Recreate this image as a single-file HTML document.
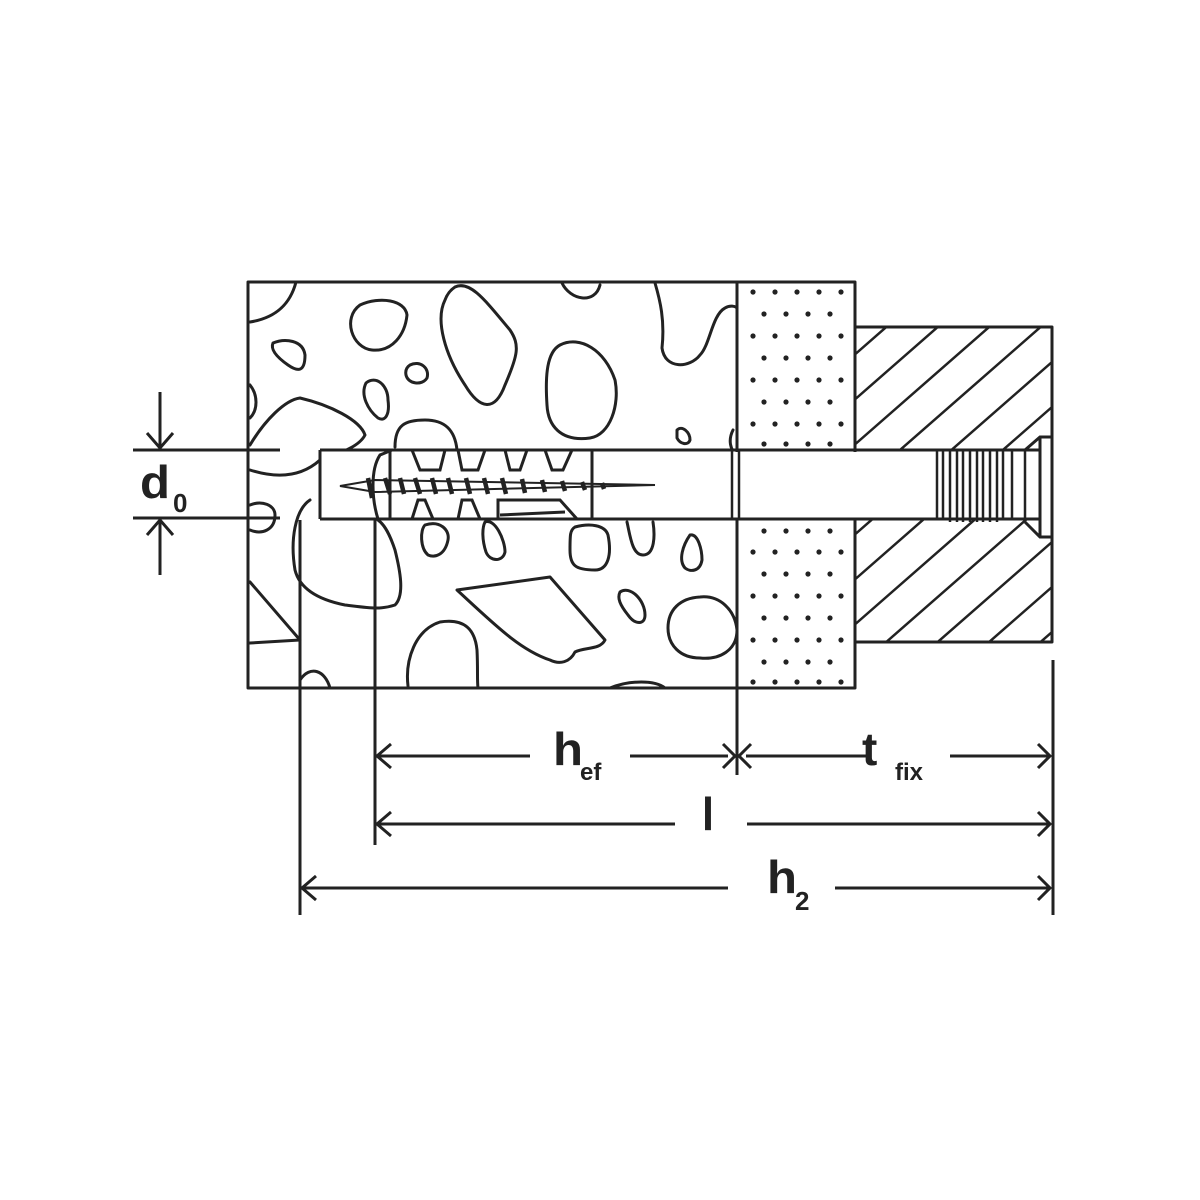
<!DOCTYPE html>
<html><head><meta charset="utf-8"><style>html,body{margin:0;padding:0;background:#fff}svg{display:block}</style></head>
<body>
<svg width="1200" height="1200" viewBox="0 0 1200 1200" xmlns="http://www.w3.org/2000/svg">
<defs>
<clipPath id="hc"><path d="M855 327 H1052 V642 H855 Z M855 450 V519 H1052 V450 Z" clip-rule="evenodd"/></clipPath>
<clipPath id="cc"><path d="M248 282 H737 V688 H248 Z M320 450 V519 H737 V450 Z" clip-rule="evenodd"/></clipPath>
</defs>
<g fill="none" stroke="#222" stroke-width="3" stroke-linejoin="round" stroke-linecap="round">
<g clip-path="url(#cc)">
<path d="M250 322 C275 318 290 305 296 282"/>
<path d="M250 385 C258 395 258 410 250 418"/>
<path d="M360 305 C380 296 405 300 407 315 C405 335 392 352 372 350 C352 348 342 318 360 305Z"/>
<path d="M273 343 C285 338 303 340 305 355 C305 372 298 372 288 365 C278 358 270 350 273 343Z"/>
<path d="M410 365 C420 360 430 368 427 378 C422 386 408 384 406 375 C405 370 407 367 410 365Z"/>
<path d="M366 383 C376 375 388 385 388 400 C390 415 385 422 378 418 C368 410 360 395 366 383Z"/>
<path d="M455 287 C470 280 485 300 510 330 C520 345 518 355 505 385 C495 412 480 410 465 385 C445 355 435 320 445 300 C448 292 452 289 455 287Z"/>
<path d="M560 345 C580 335 605 350 615 380 C620 405 610 435 590 438 C560 442 548 425 547 405 C545 375 547 352 560 345Z"/>
<path d="M677 430 C682 425 690 432 690 440 C688 446 680 444 677 438Z"/>
<path d="M655 283 C660 300 665 320 662 348 C665 370 690 368 700 355 C710 345 712 315 725 308 C730 305 735 306 737 308"/>
<path d="M562 283 C570 300 595 305 600 285"/>
<path d="M250 445 C265 420 285 400 300 398 C330 405 360 420 365 435 C360 445 345 452 320 460 C300 478 275 478 250 470"/>
<path d="M395 447 C395 425 405 420 425 420 C445 420 455 430 457 450"/>
<path d="M250 505 C262 500 275 505 275 515 C275 530 262 535 250 530"/>
<path d="M310 500 C295 510 290 540 295 570 C300 590 320 600 345 605 C370 608 380 610 395 605 C405 595 400 570 395 550 C390 535 385 525 378 520"/>
<path d="M250 582 L300 640 L250 643"/>
<path d="M300 680 C310 665 325 670 330 688"/>
<path d="M425 525 C440 520 450 530 448 540 C445 555 435 558 428 555 C420 548 420 530 425 525Z"/>
<path d="M485 522 C495 518 505 540 505 552 C503 562 490 562 486 552 C482 540 482 528 485 522Z"/>
<path d="M575 527 C590 523 605 525 608 535 C612 555 608 570 595 570 C575 570 570 565 570 550 C570 535 570 530 575 527Z"/>
<path d="M627 522 C630 535 632 555 643 555 C655 555 655 535 653 522"/>
<path d="M690 535 C698 533 702 550 702 560 C700 572 690 572 685 568 C678 560 683 545 690 535Z"/>
<path d="M457 590 L550 577 L605 640 C600 650 585 647 575 652 C570 662 560 665 550 660 C520 650 495 625 457 590Z"/>
<path d="M620 592 C630 585 645 600 645 615 C645 625 635 625 628 615 C620 605 617 598 620 592Z"/>
<path d="M700 597 C720 595 735 610 737 630 C737 650 720 660 700 658 C680 658 668 645 668 628 C668 610 680 598 700 597Z"/>
<path d="M408 686 C405 660 415 630 440 622 C465 618 475 630 477 650 C478 670 477 680 478 688"/>
<path d="M610 688 C630 680 655 680 665 688"/>
<path d="M733 430 C728 440 730 450 737 455"/>
</g>
<rect x="248" y="282" width="489" height="406"/>
<rect x="737" y="282" width="118" height="406"/>
<rect x="855" y="327" width="197" height="315"/>
<g clip-path="url(#hc)" stroke-width="2.5">
<line x1="780" y1="420" x2="1100" y2="140"/>
<line x1="780" y1="465" x2="1100" y2="185"/>
<line x1="780" y1="510" x2="1100" y2="230"/>
<line x1="780" y1="555" x2="1100" y2="275"/>
<line x1="780" y1="600" x2="1100" y2="320"/>
<line x1="780" y1="645" x2="1100" y2="365"/>
<line x1="780" y1="690" x2="1100" y2="410"/>
<line x1="780" y1="735" x2="1100" y2="455"/>
<line x1="780" y1="780" x2="1100" y2="500"/>
<line x1="780" y1="825" x2="1100" y2="545"/>
<line x1="780" y1="870" x2="1100" y2="590"/>
<line x1="780" y1="915" x2="1100" y2="635"/>
<line x1="780" y1="960" x2="1100" y2="680"/>
<line x1="780" y1="1005" x2="1100" y2="725"/>
<line x1="780" y1="1050" x2="1100" y2="770"/>
</g>
</g>
<g fill="none" stroke="#222" stroke-width="3">
<rect x="322" y="452" width="730" height="66" fill="#fff" stroke="none"/>
<path d="M320 450 H1040 M320 519 H1040 M320 450 V519"/>
<rect x="390" y="450" width="202" height="69"/>
<path d="M378 519 C372 500 370 470 380 455 L392 450" />
<path d="M412 450 L420 470 H440 L445 450 M458 450 L462 470 H478 L485 450 M505 450 L510 470 H520 L527 450 M545 450 L552 470 H563 L572 450"/>
<path d="M412 519 L418 500 H425 L433 519 M458 519 L462 500 H472 L480 519 M498 519 V500 H560 L577 519 M500 515 L565 512"/>
<path d="M340 486 L375 480 L655 485 L375 492 Z" stroke-width="2"/>
<path d="M368 478 L372 498 M385 478 L390 494 M400 478 L404 494 M415 478 L420 494 M432 478 L436 494 M448 478 L452 494 M466 478 L470 494 M484 478 L488 494 M502 478 L506 494 M522 479 L525 493 M542 480 L545 492 M562 481 L565 491 M582 482 L585 490 M602 483 L604 489" stroke-width="4.5"/>
<rect x="732" y="450" width="7" height="69" stroke-width="2.5"/>
<path d="M937 450 V519 M943 450 V519 M950 450 V522 M957 450 V522 M963 450 V522 M970 450 V522 M977 450 V522 M983 450 V522 M990 450 V522 M997 450 V522 M1003 450 V520 M1012 450 V519 M1025 450 V519" stroke-width="2.5"/>
<path d="M1025 450 L1040 437 H1052 V537 H1040 L1025 522 M1040 437 V537"/>
<path d="M133 450 H280 M133 518 H280 M160 392 V448 M160 520 V575"/>
<path d="M147 433 L160 448 L173 433 M147 535 L160 520 L173 535"/>
<path d="M300 520 V915 M375 520 V845 M737 688 V775 M1053 660 V915"/>
<path d="M377 756 H530 M630 756 H728 M746 756 H870 M950 756 H1050"/>
<path d="M377 824 H675 M747 824 H1050"/>
<path d="M302 888 H728 M835 888 H1050"/>
<path d="M391 744 L377 756 L391 768 M723 744 L735 756 L723 768 M751 744 L739 756 L751 768 M1038 744 L1050 756 L1038 768"/>
<path d="M391 812 L377 824 L391 836 M1038 812 L1050 824 L1038 836"/>
<path d="M316 876 L302 888 L316 900 M1038 876 L1050 888 L1038 900"/>
</g>
<g font-family="Liberation Sans, sans-serif" font-weight="bold" fill="#222">
<text x="140" y="498" font-size="46" textLength="30" lengthAdjust="spacingAndGlyphs">d</text>
<text x="173" y="512" font-size="26">0</text>
<text x="553" y="765" font-size="46" textLength="30" lengthAdjust="spacingAndGlyphs">h</text>
<text x="580" y="780" font-size="24">ef</text>
<text x="862" y="765" font-size="46">t</text>
<text x="895" y="780" font-size="24">fix</text>
<text x="702" y="830" font-size="46" textLength="12" lengthAdjust="spacingAndGlyphs">l</text>
<text x="767" y="893" font-size="46" textLength="30" lengthAdjust="spacingAndGlyphs">h</text>
<text x="795" y="910" font-size="26">2</text>
</g>
<g fill="#222">
<circle cx="753" cy="292" r="2.6"/><circle cx="775" cy="292" r="2.6"/><circle cx="797" cy="292" r="2.6"/><circle cx="819" cy="292" r="2.6"/><circle cx="841" cy="292" r="2.6"/>
<circle cx="764" cy="314" r="2.6"/><circle cx="786" cy="314" r="2.6"/><circle cx="808" cy="314" r="2.6"/><circle cx="830" cy="314" r="2.6"/>
<circle cx="753" cy="336" r="2.6"/><circle cx="775" cy="336" r="2.6"/><circle cx="797" cy="336" r="2.6"/><circle cx="819" cy="336" r="2.6"/><circle cx="841" cy="336" r="2.6"/>
<circle cx="764" cy="358" r="2.6"/><circle cx="786" cy="358" r="2.6"/><circle cx="808" cy="358" r="2.6"/><circle cx="830" cy="358" r="2.6"/>
<circle cx="753" cy="380" r="2.6"/><circle cx="775" cy="380" r="2.6"/><circle cx="797" cy="380" r="2.6"/><circle cx="819" cy="380" r="2.6"/><circle cx="841" cy="380" r="2.6"/>
<circle cx="764" cy="402" r="2.6"/><circle cx="786" cy="402" r="2.6"/><circle cx="808" cy="402" r="2.6"/><circle cx="830" cy="402" r="2.6"/>
<circle cx="753" cy="424" r="2.6"/><circle cx="775" cy="424" r="2.6"/><circle cx="797" cy="424" r="2.6"/><circle cx="819" cy="424" r="2.6"/><circle cx="841" cy="424" r="2.6"/>
<circle cx="764" cy="444" r="2.6"/><circle cx="786" cy="444" r="2.6"/><circle cx="808" cy="444" r="2.6"/><circle cx="830" cy="444" r="2.6"/>
<circle cx="764" cy="531" r="2.6"/><circle cx="786" cy="531" r="2.6"/><circle cx="808" cy="531" r="2.6"/><circle cx="830" cy="531" r="2.6"/>
<circle cx="753" cy="552" r="2.6"/><circle cx="775" cy="552" r="2.6"/><circle cx="797" cy="552" r="2.6"/><circle cx="819" cy="552" r="2.6"/><circle cx="841" cy="552" r="2.6"/>
<circle cx="764" cy="574" r="2.6"/><circle cx="786" cy="574" r="2.6"/><circle cx="808" cy="574" r="2.6"/><circle cx="830" cy="574" r="2.6"/>
<circle cx="753" cy="596" r="2.6"/><circle cx="775" cy="596" r="2.6"/><circle cx="797" cy="596" r="2.6"/><circle cx="819" cy="596" r="2.6"/><circle cx="841" cy="596" r="2.6"/>
<circle cx="764" cy="618" r="2.6"/><circle cx="786" cy="618" r="2.6"/><circle cx="808" cy="618" r="2.6"/><circle cx="830" cy="618" r="2.6"/>
<circle cx="753" cy="640" r="2.6"/><circle cx="775" cy="640" r="2.6"/><circle cx="797" cy="640" r="2.6"/><circle cx="819" cy="640" r="2.6"/><circle cx="841" cy="640" r="2.6"/>
<circle cx="764" cy="662" r="2.6"/><circle cx="786" cy="662" r="2.6"/><circle cx="808" cy="662" r="2.6"/><circle cx="830" cy="662" r="2.6"/>
<circle cx="753" cy="682" r="2.6"/><circle cx="775" cy="682" r="2.6"/><circle cx="797" cy="682" r="2.6"/><circle cx="819" cy="682" r="2.6"/><circle cx="841" cy="682" r="2.6"/>
</g>
</svg>
</body></html>
